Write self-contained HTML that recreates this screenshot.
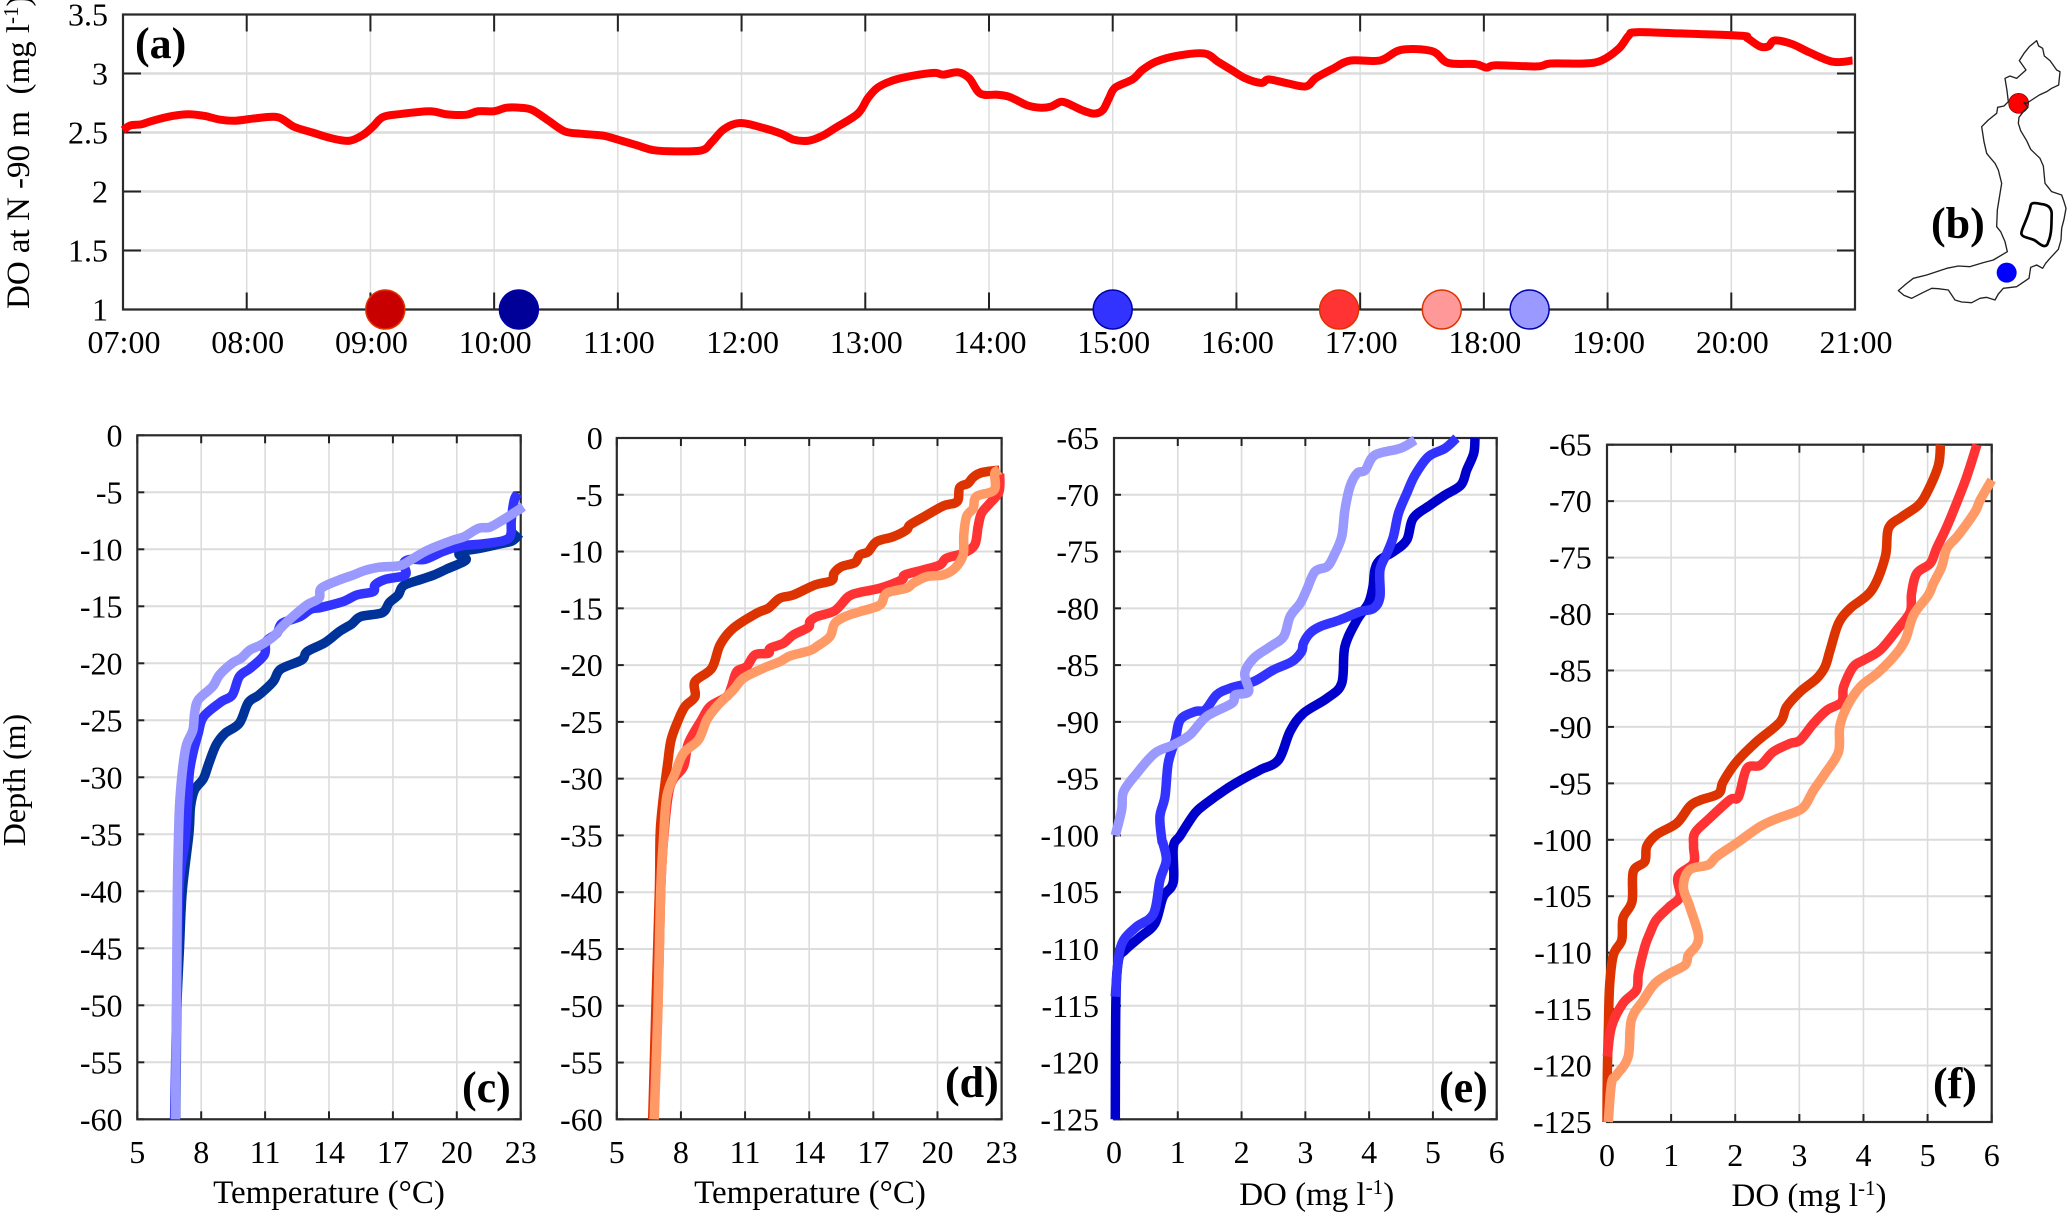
<!DOCTYPE html>
<html lang="en">
<head>
<meta charset="utf-8">
<title>Dissolved oxygen and temperature profiles</title>
<style>
html,body{margin:0;padding:0;background:#fff;}
svg{display:block;}
text{font-family:"Liberation Serif",serif;fill:#000;white-space:pre;}
</style>
</head>
<body>
<svg id="figure" xmlns="http://www.w3.org/2000/svg" width="2067" height="1214" viewBox="0 0 2067 1214">
  <rect x="0" y="0" width="2067" height="1214" fill="#fff"/>
  <g id="panels"></g>
  <g transform="translate(1880,20) scale(0.33333)">
    <circle cx="416" cy="250" r="30" fill="#ff0000" stroke="#660000" stroke-width="2"/>
    <circle cx="380" cy="758" r="30" fill="#0000ff"/>
    <path fill="none" stroke="#222" stroke-width="4" stroke-linejoin="round" d="M470 62L476 78 488 85 493 108 510 122 530 150 540 155 536 195 515 205 500 215 478 225 455 240 440 250 432 248 444 262 430 275 417 292 415 310 422 332 440 362 452 388 480 415 490 438 495 490 515 515 545 525 552 545 558 565 552 598 545 625 543 660 535 688 510 715 497 730 488 745 470 735 452 742 447 775 425 790 410 800 370 805 355 822 345 840 320 832 300 835 275 848 245 846 225 840 205 810 175 806 155 805 128 818 95 835 72 826 55 812 78 792 100 775 140 765 200 745 235 738 270 740 310 728 340 720 382 695 375 665 362 635 350 620 352 570 365 490 355 450 345 430 328 410 320 400 312 365 305 320 325 300 350 280 353 262 372 258 385 245 381 212 375 175 390 168 410 175 438 150 418 122 432 100 448 80 470 62Z"/>
    <path fill="none" stroke="#000" stroke-width="8" stroke-linejoin="round" d="M452 556C455 545 470 550 490 553C505 556 516 565 515 585C514 610 516 640 505 665C500 685 488 680 470 665C455 652 425 655 424 640C424 625 447 590 452 556Z"/>
  </g>
</svg>
<script>
// Panel (a): DO time series
const doHours = [7,7.06,7.15,7.24,7.4,7.53,7.66,7.78,7.91,8.07,8.25,8.38,8.53,8.69,8.83,8.94,9.02,9.1,9.23,9.48,9.61,9.77,9.87,10,10.1,10.21,10.31,10.44,10.57,10.7,10.82,10.9,11.03,11.16,11.29,11.47,11.68,11.76,11.86,11.99,12.17,12.32,12.42,12.54,12.65,12.76,12.94,13.02,13.1,13.22,13.38,13.56,13.63,13.75,13.84,13.93,14.07,14.17,14.31,14.42,14.5,14.58,14.64,14.75,14.85,14.92,14.97,15.02,15.16,15.24,15.35,15.52,15.74,15.85,15.96,16.07,16.2,16.26,16.4,16.56,16.64,16.78,16.92,17.16,17.33,17.58,17.71,17.93,18.02,18.1,18.43,18.54,18.81,18.95,19.09,19.17,19.23,19.58,20.08,20.13,20.23,20.3,20.35,20.49,20.63,20.82,20.98];
const doValues = [2.52,2.56,2.57,2.6,2.64,2.655,2.64,2.61,2.6,2.62,2.63,2.55,2.5,2.45,2.43,2.48,2.55,2.63,2.655,2.68,2.655,2.65,2.68,2.68,2.71,2.71,2.69,2.6,2.51,2.49,2.48,2.47,2.43,2.39,2.35,2.34,2.35,2.42,2.53,2.58,2.54,2.49,2.44,2.43,2.47,2.54,2.66,2.79,2.88,2.94,2.98,3.005,2.99,3.01,2.96,2.83,2.82,2.8,2.73,2.71,2.72,2.76,2.745,2.69,2.66,2.69,2.79,2.88,2.95,3.03,3.1,3.15,3.17,3.1,3.03,2.96,2.92,2.95,2.92,2.89,2.96,3.04,3.11,3.11,3.2,3.19,3.09,3.08,3.05,3.07,3.06,3.085,3.085,3.11,3.21,3.32,3.35,3.34,3.32,3.3,3.23,3.23,3.28,3.25,3.18,3.1,3.11];
const castHours = [9.12,10.2,15,16.83,17.66,18.37];
const castFills = ['#c80000','#000099','#3333ff','#ff3333','#ff9999','#9999ff'];
const castEdges = ['#dd3300','#0000aa','#0000aa','#dd3300','#dd3300','#0000aa'];
const hourTicks = [7,8,9,10,11,12,13,14,15,16,17,18,19,20,21];
const hourLabels = ['07:00','08:00','09:00','10:00','11:00','12:00','13:00','14:00','15:00','16:00','17:00','18:00','19:00','20:00','21:00'];
const doTicksA = [1,1.5,2,2.5,3,3.5];
const doLabelsA = ['1','1.5','2','2.5','3','3.5'];

// Shared profile axes
const tempTicks = [5,8,11,14,17,20,23];
const shallowDepthTicks = [0,-5,-10,-15,-20,-25,-30,-35,-40,-45,-50,-55,-60];
const deepDepthTicks = [-65,-70,-75,-80,-85,-90,-95,-100,-105,-110,-115,-120,-125];
const doTicks = [0,1,2,3,4,5,6];

// Panel (c): temperature, afternoon-morning blue casts
const cDarkTemp = [22.95,22.62,22.03,21.11,20.35,20.1,20.43,19.51,18.93,18.34,17.5,17.25,16.83,16.5,15.49,15.07,14.48,13.81,12.97,12.72,11.72,11.38,10.71,10.21,9.79,9.12,8.7,8.36,8.11,7.69,7.5,7.42,7.11,6.98,6.86,6.83,6.8];
const cDarkDepth = [-8.6,-9.24,-9.53,-9.91,-10.15,-10.44,-10.94,-11.75,-12.25,-12.63,-13.19,-14,-14.68,-15.56,-15.9,-16.55,-17.22,-18.19,-18.98,-19.71,-20.53,-21.6,-22.78,-23.45,-25.26,-26.14,-27.16,-28.77,-30.09,-31.11,-32.57,-35,-40,-45,-50,-55,-60];
const cMidTemp = [22.87,22.7,22.56,22.53,22.2,21.19,20.18,19.34,18.5,17.83,17.5,17.58,16.66,16.16,16.08,15.32,14.65,13.65,13.14,12.64,11.8,11.55,11.05,10.96,10.3,9.79,9.46,8.95,8.11,7.86,7.61,7.44,7.36,7.24,6.95,6.85,6.75];
const cMidDepth = [-5.09,-5.67,-7.43,-8.74,-9.24,-9.53,-9.71,-10.2,-10.88,-10.88,-11.23,-12.25,-12.63,-13.13,-13.71,-14,-14.59,-15.09,-15.26,-15.91,-16.49,-17.37,-18.1,-19.27,-20.44,-21.17,-22.78,-23.36,-24.68,-26.14,-27.89,-29.65,-32.28,-35.5,-40,-50,-60];
const cLightTemp = [23.12,22.53,22.03,21.53,21.02,20.35,19.85,19.09,18.5,17.83,17.33,16.33,15.66,15.15,14.48,13.64,13.53,12.97,12.3,11.8,11.38,10.8,10.29,9.87,9.45,8.86,8.53,7.86,7.69,7.61,7.31,7.14,6.99,6.93,6.88,6.84,6.79];
const cLightDepth = [-6.26,-6.99,-7.57,-8.07,-8.16,-8.89,-9.18,-9.71,-10.2,-10.94,-11.43,-11.58,-11.87,-12.25,-12.69,-13.42,-14.3,-14.88,-15.91,-16.78,-17.66,-18.39,-18.83,-19.56,-20,-21.02,-22.05,-23.22,-24.39,-25.85,-27.16,-29.06,-32.28,-35.5,-40,-50,-60];

// Panel (d): temperature, red casts
const dDarkTemp = [22.9,22.06,21.67,21.43,21.04,20.92,20.26,19.33,18.71,18.55,17.93,17.15,16.76,16.37,16.14,15.51,15.16,15.05,14.27,13.26,12.63,12.09,11.54,10.45,9.83,9.44,8.66,8.66,8.19,7.88,7.54,7.38,7.2,7.07,7.02,6.99,6.83,6.68];
const dDarkDepth = [-2.82,-3.05,-3.46,-3.99,-4.37,-5.6,-5.99,-6.98,-7.66,-8.1,-8.69,-9.13,-10.01,-10.3,-10.97,-11.33,-11.91,-12.56,-12.94,-13.82,-14.11,-14.99,-15.43,-16.75,-18.22,-20.28,-21.45,-22.77,-23.65,-24.82,-26.58,-28.64,-31.28,-33.63,-35.39,-40,-50,-60];
const dMidTemp = [22.91,22.88,22.45,22.06,21.9,21.74,21.2,20.42,20.11,19.33,18.47,18.32,17.31,16.37,15.83,15.2,14.35,14.03,13.96,13.26,12.79,12.17,12.09,11.46,11.07,10.61,10.37,10.14,9.36,8.97,8.35,8.12,7.49,7.2,7.05,6.92,6.72];
const dMidDepth = [-3.11,-4.72,-5.75,-6.63,-7.81,-9.42,-10.15,-10.59,-11.18,-11.62,-12.06,-12.5,-13.23,-13.59,-13.97,-15.2,-15.73,-16.17,-16.67,-17.34,-18.08,-18.52,-18.96,-19.1,-20.13,-20.57,-21.89,-22.77,-23.65,-24.82,-26.88,-28.93,-30.69,-35.09,-40,-50,-60];
const dLightTemp = [22.91,22.68,22.65,21.82,21.67,21.36,21.23,21.2,20.81,20.26,19.49,18.86,18.55,17.62,17.31,16.37,15.75,15.2,14.97,14.35,14.03,13.1,12.63,11.85,10.92,10.45,9.67,9.21,8.82,8.12,7.73,7.34,7.18,7.05,6.93,6.75];
const dLightDepth = [-2.82,-3.11,-4.58,-5.16,-6.19,-6.92,-8.54,-10.3,-11.47,-12.06,-12.21,-12.79,-13.23,-13.67,-14.7,-15.29,-15.67,-16.31,-17.49,-18.37,-18.72,-19.19,-19.69,-20.28,-21.16,-22.18,-23.65,-24.82,-26.58,-27.76,-29.52,-31.57,-35.39,-40,-50,-60];

// Panel (e): DO, blue casts
const eDarkDo = [5.66,5.64,5.53,5.44,5.19,4.96,4.69,4.59,4.38,4.17,4.09,4.06,3.99,3.81,3.62,3.57,3.34,2.97,2.76,2.58,2.29,2,1.74,1.45,1.27,1.04,0.93,0.93,0.77,0.64,0.41,0.17,0.07,0.03,0.02];
const eDarkDepth = [-65,-66.35,-67.82,-69.14,-70.02,-70.9,-72.07,-73.98,-75.01,-75.74,-76.62,-78.09,-79.55,-81.02,-83.37,-86.6,-87.92,-89.24,-90.85,-93.34,-94.23,-95.1,-95.99,-97.16,-98.04,-100,-101.03,-104.1,-105.42,-107.77,-108.94,-110.11,-110.99,-114.5,-125];
const eMidDo = [5.37,5.19,4.93,4.72,4.59,4.46,4.38,4.28,4.17,4.17,4.07,3.86,3.54,3.23,3.07,2.97,2.94,2.79,2.5,2.19,1.82,1.61,1.43,1.27,1.04,0.96,0.85,0.8,0.72,0.75,0.77,0.82,0.72,0.62,0.35,0.15,0.07,0.02];
const eMidDepth = [-65,-65.91,-66.64,-68.26,-69.87,-71.63,-73.69,-75.15,-76.62,-78.97,-80,-80.29,-81.02,-81.61,-82.2,-83.07,-83.81,-84.69,-85.42,-86.45,-87.04,-87.62,-88.94,-89.09,-89.82,-91.59,-93.64,-96.57,-98.34,-100.39,-100.73,-102.2,-103.96,-106.89,-108.06,-109.23,-110.84,-114.2];
const eLightDo = [4.72,4.49,4.09,3.94,3.81,3.7,3.62,3.57,3.44,3.34,3.15,3.02,2.92,2.76,2.66,2.45,2.19,2.05,2.11,1.9,1.85,1.45,1.19,0.93,0.64,0.36,0.15,0.12,0.02];
const eLightDepth = [-65.18,-65.91,-66.5,-67.82,-68.11,-69.28,-71.34,-73.69,-75.45,-76.33,-76.77,-78.38,-79.55,-80.73,-82.49,-83.37,-84.4,-85.72,-87.33,-87.62,-88.36,-89.53,-91.14,-92.02,-92.76,-94.52,-96.14,-97.76,-100];

// Panel (f): DO, red casts
const fDarkDo = [5.2,5.17,5.01,4.86,4.6,4.39,4.34,4.13,3.79,3.61,3.48,3.4,3.27,3.01,2.8,2.7,2.33,2.02,1.81,1.74,1.45,1.29,1.09,0.77,0.62,0.59,0.41,0.39,0.25,0.23,0.1,0.04,0.02,0.005,0];
const fDarkDepth = [-65,-66.8,-69.02,-70.35,-71.38,-72.42,-74.93,-77.88,-79.51,-80.84,-83.2,-84.68,-85.71,-86.9,-88.23,-89.56,-91.33,-93.1,-94.88,-95.91,-96.5,-97.04,-98.52,-99.56,-100.59,-101.92,-102.81,-105.47,-106.94,-108.87,-110.2,-113,-117.14,-120.7,-125];
const fMidDo = [5.77,5.61,5.45,5.3,5.14,5.04,4.83,4.75,4.73,4.54,4.26,4,3.84,3.69,3.66,3.43,3.22,3.01,2.85,2.59,2.39,2.18,2.05,1.92,1.58,1.37,1.35,1.35,1.11,1.14,0.98,0.77,0.67,0.59,0.49,0.46,0.25,0.07,0.005];
const fMidDepth = [-65,-67.84,-70.2,-72.27,-74.19,-75.52,-76.41,-78.18,-79.8,-81.28,-83.2,-84.09,-84.68,-86.45,-87.78,-88.52,-89.7,-91.18,-91.48,-92.22,-93.4,-93.69,-96.2,-96.45,-98.2,-99.4,-100.6,-102.07,-103.25,-105.02,-105.9,-107.09,-108.27,-109.46,-111.82,-113.3,-114.48,-116.55,-119.2];
const fLightDo = [6,5.82,5.74,5.48,5.3,5.22,5.09,5.01,4.78,4.65,4.47,4.21,3.95,3.74,3.63,3.61,3.4,3.22,3.09,2.96,2.67,2.39,2.02,1.71,1.58,1.29,1.19,1.29,1.42,1.4,1.27,1.22,0.98,0.75,0.57,0.38,0.33,0.15,0.07,0.02];
const fLightDepth = [-68.13,-69.91,-70.94,-73.01,-74.19,-75.82,-77.29,-78.33,-80.1,-82.32,-83.79,-85.27,-86.45,-88.23,-90,-92.22,-94.14,-95.62,-96.95,-97.49,-98.08,-98.82,-100.3,-101.48,-102.22,-102.66,-104.14,-105.91,-108.27,-109.31,-110.2,-111.08,-111.82,-112.71,-114.18,-115.96,-119.21,-120.83,-121.57,-125];

const NS = 'http://www.w3.org/2000/svg';
const root = document.getElementById('panels');

function make(tag, parent, attrs) {
  const el = document.createElementNS(NS, tag);
  for (const k in attrs) el.setAttribute(k, attrs[k]);
  parent.appendChild(el);
  return el;
}
function linear(d0, d1, r0, r1) {
  return function (v) { return r0 + (v - d0) * (r1 - r0) / (d1 - d0); };
}
function gridLine(parent, x1, y1, x2, y2, w) {
  const el = make('line', parent, {x1: x1, y1: y1, x2: x2, y2: y2, stroke: '#dcdcdc', 'stroke-width': w});
  
  
}
function tickLine(parent, x1, y1, x2, y2) {
  const el = make('line', parent, {x1: x1, y1: y1, x2: x2, y2: y2, stroke: '#222', 'stroke-width': 2});
  
  
}
function tickLabel(parent, x, y, anchor, label) {
  const el = make('text', parent, {x: x, y: y, 'text-anchor': anchor, 'font-size': 32});
  
  
  el.textContent = label;
}
function frame(parent, L, T, R, B) {
  const el = make('rect', parent, {x: L, y: T, width: R - L, height: B - T, fill: 'none', stroke: '#2b2b2b', 'stroke-width': 2.2});
  
  
}
function seriesLine(parent, xs, ys, sx, sy, color, width, name) {
  const n = xs.length;
  const px = xs.map(sx);
  const py = ys.map(sy);
  let d = 'M' + px[0].toFixed(2) + ' ' + py[0].toFixed(2);
  for (let i = 0; i < n - 1; i++) {
    const a = Math.max(i - 1, 0), b = Math.min(i + 2, n - 1);
    const c1x = px[i] + (px[i + 1] - px[a]) / 6;
    const c1y = py[i] + (py[i + 1] - py[a]) / 6;
    const c2x = px[i + 1] - (px[b] - px[i]) / 6;
    const c2y = py[i + 1] - (py[b] - py[i]) / 6;
    d += 'C' + c1x.toFixed(2) + ' ' + c1y.toFixed(2) + ' ' + c2x.toFixed(2) + ' ' + c2y.toFixed(2) + ' ' + px[i + 1].toFixed(2) + ' ' + py[i + 1].toFixed(2);
  }
  const el = make('path', parent, {d: d, fill: 'none', stroke: color, 'stroke-width': width, 'stroke-linejoin': 'round', 'stroke-linecap': 'butt'});
  
  
}
function panelLetter(parent, x, y, label) {
  const el = make('text', parent, {x: x, y: y, 'font-size': 44, 'font-weight': 'bold'});
  
  
  el.textContent = label;
}

/* Panel (a) */
(function () {
  const g = make('g', root, {});
  
  
  const L = 123, R = 1855, T = 14.5, B = 309.5;
  const sx = linear(7, 21, L, R);
  const sy = linear(1, 3.5, B, T);
  doTicksA.forEach(function (v, i) {
    const y = sy(v);
    gridLine(g, L, y, R, y, 2.4);
    tickLine(g, L, y, L + 18, y);
    tickLine(g, R - 18, y, R, y);
    tickLabel(g, 108, y + 11, 'end', doLabelsA[i]);
  });
  hourTicks.forEach(function (v, i) {
    const x = sx(v);
    gridLine(g, x, T, x, B, 1.4);
    tickLine(g, x, T, x, T + 17);
    tickLine(g, x, B - 17, x, B);
    tickLabel(g, x + 1, 353, 'middle', hourLabels[i]);
  });
  frame(g, L, T, R, B);
  seriesLine(g, doHours, doValues, sx, sy, '#ff0000', 8, 'do-time-series');
  castHours.forEach(function (h, i) {
    const el = make('circle', g, {cx: sx(h), cy: B, r: 19.5, fill: castFills[i], stroke: castEdges[i], 'stroke-width': 1.5});
    
    
  });
  const title = make('text', g, {transform: 'translate(29,309) rotate(-90)', 'font-size': 33});
  
  
  title.appendChild(document.createTextNode('DO at N -90 m  (mg l'));
  const sup = make('tspan', title, {dy: -11, 'font-size': 21});
  
  
  sup.textContent = '-1';
  const close = make('tspan', title, {dy: 11});
  
  
  close.textContent = ')';
  panelLetter(g, 135, 58, '(a)');
})();

/* Panel (b) letter */
panelLetter(root, 1931, 238, '(b)');

/* Profile panels */
function profilePanel(cfg) {
  const g = make('g', root, {});
  
  
  const sx = linear(cfg.xTicks[0], cfg.xTicks[cfg.xTicks.length - 1], cfg.L, cfg.R);
  const sy = linear(cfg.yTicks[0], cfg.yTicks[cfg.yTicks.length - 1], cfg.T, cfg.B);
  cfg.yTicks.forEach(function (v) {
    const y = sy(v);
    gridLine(g, cfg.L, y, cfg.R, y, 2);
    tickLine(g, cfg.L, y, cfg.L + 7, y);
    tickLine(g, cfg.R - 7, y, cfg.R, y);
    tickLabel(g, cfg.yLabelX, y + 11, 'end', String(v));
  });
  cfg.xTicks.forEach(function (v) {
    const x = sx(v);
    gridLine(g, x, cfg.T, x, cfg.B, 1.6);
    tickLine(g, x, cfg.T, x, cfg.T + 8);
    tickLine(g, x, cfg.B - 8, x, cfg.B);
    tickLabel(g, x, cfg.xLabelY, 'middle', String(v));
  });
  frame(g, cfg.L, cfg.T, cfg.R, cfg.B);
  cfg.series.forEach(function (s) {
    seriesLine(g, s[0], s[1], sx, sy, s[2], 9.5, s[3]);
  });
  const title = make('text', g, {x: cfg.titleX, y: cfg.titleY, 'text-anchor': 'middle', 'font-size': 33});
  
  
  if (cfg.isDo) {
    title.appendChild(document.createTextNode('DO (mg l'));
    const sup = make('tspan', title, {dy: -11, 'font-size': 21});
    
    
    sup.textContent = '-1';
    const close = make('tspan', title, {dy: 11});
    
    
    close.textContent = ')';
  } else {
    title.textContent = 'Temperature (\u00B0C)';
  }
  panelLetter(g, cfg.letterX, cfg.letterY, cfg.letter);
}

profilePanel({
  name: 'panel-c', letter: '(c)', letterX: 462, letterY: 1102,
  L: 137.3, R: 520.7, T: 435.3, B: 1119.3, yLabelX: 122.5, xLabelY: 1163,
  xTicks: tempTicks, yTicks: shallowDepthTicks, titleX: 329, titleY: 1203, isDo: false,
  series: [
    [cDarkTemp, cDarkDepth, '#003399', 'temperature-profile-morning'],
    [cMidTemp, cMidDepth, '#3333ff', 'temperature-profile-afternoon'],
    [cLightTemp, cLightDepth, '#9999ff', 'temperature-profile-evening']
  ]
});
profilePanel({
  name: 'panel-d', letter: '(d)', letterX: 945, letterY: 1097,
  L: 616.8, R: 1001.6, T: 438, B: 1119.3, yLabelX: 602.7, xLabelY: 1163,
  xTicks: tempTicks, yTicks: shallowDepthTicks, titleX: 810, titleY: 1203, isDo: false,
  series: [
    [dDarkTemp, dDarkDepth, '#dd3300', 'temperature-profile-morning'],
    [dMidTemp, dMidDepth, '#ff3333', 'temperature-profile-afternoon'],
    [dLightTemp, dLightDepth, '#ff9966', 'temperature-profile-evening']
  ]
});
profilePanel({
  name: 'panel-e', letter: '(e)', letterX: 1439, letterY: 1102,
  L: 1114, R: 1496.7, T: 438, B: 1119.3, yLabelX: 1099, xLabelY: 1163,
  xTicks: doTicks, yTicks: deepDepthTicks, titleX: 1316.7, titleY: 1205, isDo: true,
  series: [
    [eDarkDo, eDarkDepth, '#0000cc', 'do-profile-morning'],
    [eMidDo, eMidDepth, '#3333ff', 'do-profile-afternoon'],
    [eLightDo, eLightDepth, '#9999ff', 'do-profile-evening']
  ]
});
profilePanel({
  name: 'panel-f', letter: '(f)', letterX: 1933, letterY: 1098,
  L: 1607, R: 1991.7, T: 444.7, B: 1122, yLabelX: 1591.7, xLabelY: 1166,
  xTicks: doTicks, yTicks: deepDepthTicks, titleX: 1809, titleY: 1206, isDo: true,
  series: [
    [fDarkDo, fDarkDepth, '#dd3300', 'do-profile-morning'],
    [fMidDo, fMidDepth, '#ff3333', 'do-profile-afternoon'],
    [fLightDo, fLightDepth, '#ff9966', 'do-profile-evening']
  ]
});

/* Shared depth title */
const depthTitle = make('text', root, {transform: 'translate(25,780) rotate(-90)', 'text-anchor': 'middle', 'font-size': 32});


depthTitle.textContent = 'Depth (m)';
</script>
</body>
</html>
